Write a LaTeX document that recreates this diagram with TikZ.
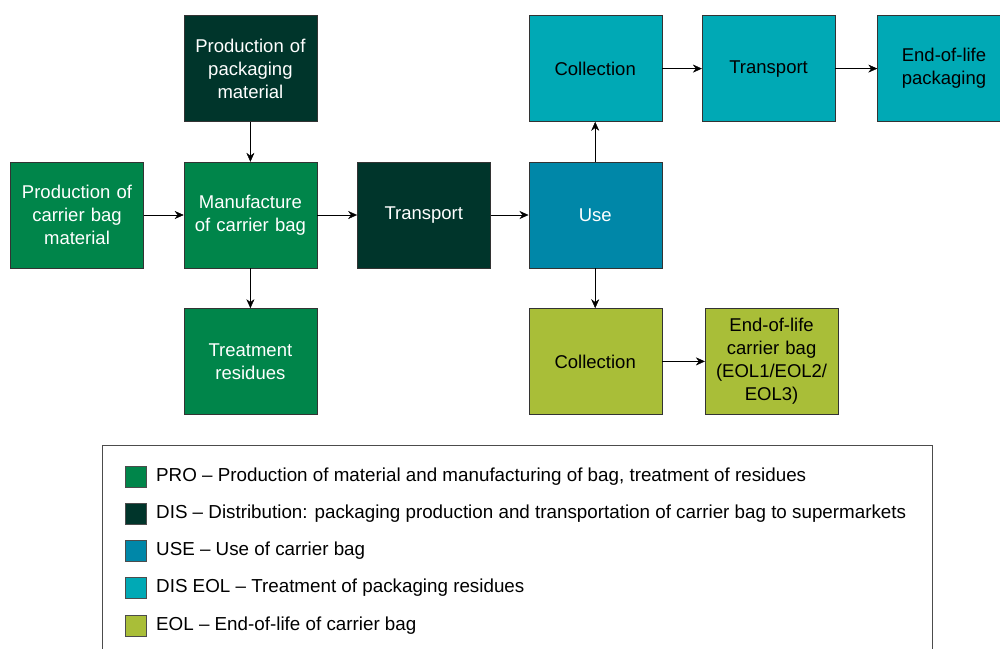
\documentclass[tikz,border=0pt]{standalone}
\usepackage{fontspec}
\setmainfont{Liberation Sans}
\usetikzlibrary{arrows.meta,positioning}
\definecolor{progreen}{HTML}{00854A}
\definecolor{disdark}{HTML}{00352B}
\definecolor{useblue}{HTML}{0087A8}
\definecolor{eolteal}{HTML}{00A9B5}
\definecolor{eololive}{HTML}{A9BE38}
\begin{document}
\begin{tikzpicture}[x=1pt,y=-1pt,node distance=40pt,>={Stealth[length=9pt,width=8pt]},
    box/.style={draw=black!80,minimum width=133pt,minimum height=106pt,text width=125pt,
      align=center,inner sep=0pt,font=\fontsize{18.5}{23}\selectfont},
    pro/.style={box,fill=progreen,text=white},
    dis/.style={box,fill=disdark,text=white},
    use/.style={box,fill=useblue,text=white},
    diseol/.style={box,fill=eolteal,text=black},
    eol/.style={box,fill=eololive,text=black},
    key/.style={draw=black!70,minimum size=21pt,inner sep=0pt},
    keytext/.style={anchor=west,inner sep=0pt,font=\fontsize{18.8}{22}\selectfont}]
        \useasboundingbox (0,0) rectangle (1000,648);
        \clip (0,0) rectangle (1000,648);
        \node[pro] (cbmat) at (77,215) {Production of\\carrier bag\\material};
        \node[pro] (manuf) [right=of cbmat] {Manufacture\\of carrier bag};
        \node[dis] (packmat) [above=of manuf] {Production of\\packaging\\material};
        \node[pro] (resid) [below=of manuf] {Treatment\\residues};
        \node[dis] (trans) [right=of manuf] {Transport};
        \node[use] (use) [right=38pt of trans] {Use};
        \node[diseol] (collpack) [above=of use] {Collection};
        \node[diseol] (transpack) [right=of collpack] {Transport};
        \node[diseol] (eolpack) [right=42pt of transpack] {End-of-life\\packaging};
        \node[eol] (collbag) [below=of use] {Collection};
        \node[eol] (eolbag) [right=43pt of collbag] {End-of-life\\carrier bag\\(EOL1/EOL2/\\EOL3)};
        \draw [->] (packmat) -- (manuf);
        \draw [->] (cbmat) -- (manuf);
        \draw [->] (manuf) -- (resid);
        \draw [->] (manuf) -- (trans);
        \draw [->] (trans) -- (use);
        \draw [->] (use) -- (collpack);
        \draw [->] (collpack) -- (transpack);
        \draw [->] (transpack) -- (eolpack);
        \draw [->] (use) -- (collbag);
        \draw [->] (collbag) -- (eolbag);
        % legend
        \draw [black!70] (102,445) rectangle (932,670);
        \node[key,fill=progreen] (kpro) at (135.5,477) {};
        \node[keytext] (tpro) at (156,477) {PRO -- Production of material and manufacturing of bag, treatment of residues};
        \node[key,fill=disdark] (kdis) at (135.5,514) {};
        \node[keytext] (tdis) at (156,514) {DIS -- Distribution: packaging production and transportation of carrier bag to supermarkets};
        \node[key,fill=useblue] (kuse) at (135.5,551) {};
        \node[keytext] (tuse) at (156,551) {USE -- Use of carrier bag};
        \node[key,fill=eolteal] (kdiseol) at (135.5,588) {};
        \node[keytext] (tdiseol) at (156,588) {DIS EOL -- Treatment of packaging residues};
        \node[key,fill=eololive] (keol) at (135.5,626) {};
        \node[keytext] (teol) at (156,626) {EOL -- End-of-life of carrier bag};
    \end{tikzpicture}
\end{document}
